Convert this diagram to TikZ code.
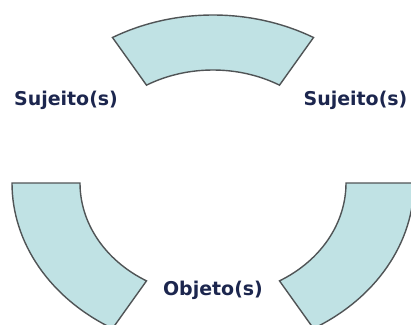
\documentclass[tikz,border=0pt]{standalone}
\usepackage{fontspec}
\newfontfamily\labelfont{DejaVu Sans}
\definecolor{ringfill}{RGB}{192,226,228}
\definecolor{ringline}{RGB}{80,84,86}
\definecolor{labelblue}{RGB}{28,38,78}
\begin{document}
\begin{tikzpicture}[
  ringpart/.style={fill=ringfill, draw=ringline, line width=1pt, line join=miter},
  partlabel/.style={anchor=base, inner sep=0pt, text=labelblue,
    font=\labelfont\bfseries\fontsize{13.5}{16}\selectfont}]
% page frame, the ring runs off the bottom and right edges
\clip (-5.325,-3.525) rectangle (4.95,4.575);

% outer ring 5.025 x 4.2, inner ring 3.325 x 2.825
\draw[ringpart] (60:5.025 and 4.2) arc[start angle=60, end angle=120, x radius=5.025, y radius=4.2]
  -- (120:3.325 and 2.825) arc[start angle=120, end angle=60, x radius=3.325, y radius=2.825] -- cycle;

\draw[ringpart] (180:5.025 and 4.2) arc[start angle=180, end angle=240, x radius=5.025, y radius=4.2]
  -- (240:3.325 and 2.825) arc[start angle=240, end angle=180, x radius=3.325, y radius=2.825] -- cycle;

\draw[ringpart] (300:5.025 and 4.2) arc[start angle=300, end angle=360, x radius=5.025, y radius=4.2]
  -- (360:3.325 and 2.825) arc[start angle=360, end angle=300, x radius=3.325, y radius=2.825] -- cycle;

% labels
\node[partlabel] (sujeitoleft) at (-3.675,1.95) {Sujeito(s)};
\node[partlabel] (sujeitoright) at (3.5625,1.95) {Sujeito(s)};
\node[partlabel] (objeto) at (0,-2.8) {Objeto(s)};
\end{tikzpicture}
\end{document}
